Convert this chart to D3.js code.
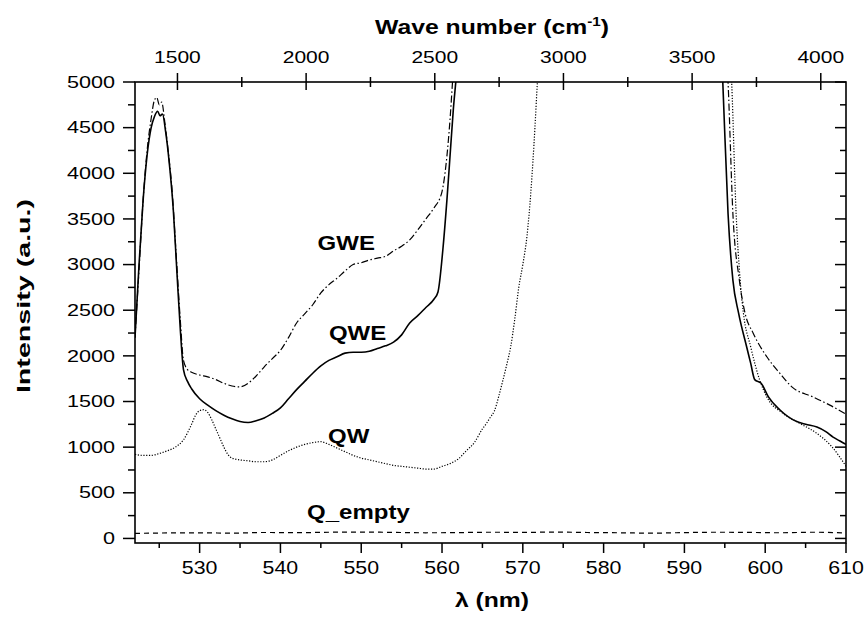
<!DOCTYPE html>
<html>
<head>
<meta charset="utf-8">
<script src="https://cdnjs.cloudflare.com/ajax/libs/d3/7.8.5/d3.min.js"></script>
<style>
    body { margin: 0; background: #fff; }
    text { font-family: "Liberation Sans", Arial, sans-serif; fill: #000; }
</style>
</head>
<body>
<div id="chart"></div>
<script>
// wavelength (nm) / intensity pairs
var qweLam = [522, 522.5, 523, 523.5, 524, 524.4, 524.8, 525.1, 525.4, 525.8, 526.2, 526.7, 527.2, 527.6, 528, 528.5, 529, 530, 531, 532, 533, 534, 535, 536, 537, 538, 539, 540, 541, 542, 543, 544, 545, 546, 547, 548, 549, 550, 551, 552, 553, 554, 555, 556, 557, 558, 559, 559.5, 560.1, 560.6, 561, 561.4, 561.8, 562.2,
    594.5, 594.75, 595.4, 596, 596.7, 597.7, 598.2, 598.7, 599.5, 600.4, 601.8, 603.9, 605, 606.4, 607.5, 608.4, 609.2, 610];
var qweVal = [2200, 3000, 3700, 4200, 4500, 4620, 4680, 4630, 4650, 4450, 4150, 3650, 2900, 2300, 1850, 1720, 1640, 1530, 1460, 1400, 1350, 1310, 1280, 1270, 1290, 1320, 1370, 1430, 1530, 1630, 1720, 1810, 1890, 1950, 1990, 2030, 2040, 2040, 2050, 2080, 2110, 2150, 2230, 2360, 2440, 2530, 2620, 2700, 3160, 3700, 4200, 4700, 5100, 5600,
    5500, 5000, 3560, 2830, 2470, 2100, 1920, 1740, 1700, 1550, 1410, 1280, 1250, 1220, 1170, 1110, 1070, 1030];

var gweLam = [522, 522.5, 523, 523.5, 524, 524.4, 524.7, 525, 525.3, 525.7, 526.1, 526.6, 527.1, 527.6, 528, 528.5, 529, 530, 531, 532, 533, 534, 535, 536, 537, 538, 539, 540, 541, 542, 543, 544, 545, 546, 547, 548, 549, 550, 551, 552, 553, 554, 555, 556, 557, 558, 559, 560, 560.5, 561, 561.3, 561.7,
    595.1, 595.4, 596, 596.8, 597.5, 598.5, 600.2, 601.8, 603.3, 605.9, 608, 610];
var gweVal = [2200, 2950, 3700, 4250, 4600, 4800, 4830, 4750, 4780, 4550, 4250, 3800, 3100, 2400, 1950, 1850, 1820, 1790, 1770, 1740, 1700, 1670, 1660, 1700, 1780, 1880, 1970, 2060, 2200, 2360, 2460, 2560, 2690, 2780, 2850, 2930, 3000, 3020, 3050, 3070, 3090, 3150, 3200, 3270, 3380, 3500, 3620, 3800, 4100, 4600, 5000, 5500,
    5500, 5000, 3560, 2830, 2470, 2250, 1990, 1810, 1660, 1550, 1460, 1360];

var qwLam = [522, 523, 524, 525, 526, 527, 528, 529, 529.5, 530, 530.5, 531, 531.5, 532, 532.5, 533, 533.5, 534, 535, 536, 537, 538, 539, 540, 541, 542, 543, 544, 545, 546, 547, 548, 549, 550, 551, 552, 553, 554, 555, 556, 557, 558, 559, 560, 561, 562, 563, 564, 565, 565.5, 566, 566.5, 567, 567.5, 568, 568.5, 569, 569.5, 570, 570.5, 571, 571.5, 571.8, 572.2,
    595.6, 595.85, 596.4, 596.9, 597.3, 598.2, 599.3, 600.2, 602.2, 604.3, 606.4, 608.2, 610];
var qwVal = [920, 910, 910, 930, 960, 1000, 1080, 1250, 1350, 1400, 1410, 1380, 1300, 1200, 1100, 1000, 920, 880, 860, 850, 840, 840, 860, 910, 960, 1000, 1030, 1050, 1060, 1030, 990, 950, 910, 880, 860, 840, 820, 800, 790, 780, 770, 760, 760, 790, 820, 870, 960, 1050, 1200, 1260, 1330, 1400, 1550, 1720, 1900, 2100, 2400, 2750, 3000, 3300, 3800, 4500, 5000, 5600,
    5500, 5000, 3560, 2830, 2470, 2100, 1740, 1550, 1370, 1260, 1150, 1010, 790];

var emptyLam = [522, 526, 530, 534, 538, 542, 546, 550, 554, 558, 562, 566, 570, 574, 578, 582, 586, 590, 594, 598, 602, 606, 610];
var emptyVal = [55, 60, 62, 58, 65, 63, 68, 70, 66, 62, 64, 68, 66, 70, 65, 62, 58, 64, 68, 66, 62, 68, 60];

var bottomTicks = [530, 540, 550, 560, 570, 580, 590, 600, 610];
var topTicks = [1500, 2000, 2500, 3000, 3500, 4000];
var leftTicks = [0, 500, 1000, 1500, 2000, 2500, 3000, 3500, 4000, 4500, 5000];

// curve names, placed by their left edge / baseline in data units
var seriesLabels = [
    { name: "GWE", lam: 544.6, val: 3160 },
    { name: "QWE", lam: 546.0, val: 2175 },
    { name: "QW", lam: 545.9, val: 1045 },
    { name: "Q_empty", lam: 543.3, val: 213 }
];

var width = 866, height = 619;
var plotLeft = 135, plotRight = 846, plotTop = 82, plotBottom = 543;

var svg = d3.select("#chart").append("svg")
    .attr("width", width)
    .attr("height", height);

var x = d3.scaleLinear().domain([522, 610]).range([plotLeft, plotRight]);
var xTop = d3.scaleLinear().domain([1335, 4098]).range([plotLeft, plotRight]);
var y = d3.scaleLinear().domain([-50, 5000]).range([plotBottom, plotTop]);

// text in the figure is drawn wide, so stretch it horizontally
function label(g, txt, px, py, size, sx, anchor, weight) {
    return g.append("text")
        .attr("transform", "translate(" + px + "," + py + ") scale(" + sx + ",1)")
        .attr("text-anchor", anchor)
        .style("font-size", size + "px")
        .style("font-weight", weight || "normal")
        .text(txt);
}

svg.append("clipPath").attr("id", "plotClip")
    .append("rect")
    .attr("x", plotLeft).attr("y", plotTop)
    .attr("width", plotRight - plotLeft).attr("height", plotBottom - plotTop);

var plot = svg.append("g").attr("clip-path", "url(#plotClip)");

function drawSeries(lam, val, dash, w) {
    var pts = lam.map(function (d, i) { return [d, val[i]]; });
    var line = d3.line()
        .x(function (d) { return x(d[0]); })
        .y(function (d) { return y(d[1]); })
        .curve(d3.curveMonotoneX);
    // the right-hand branch is drawn separately (curves leave through the top)
    var split = 0;
    for (var i = 1; i < pts.length; i++) {
        if (pts[i][0] - pts[i - 1][0] > 10) split = i;
    }
    var parts = split ? [pts.slice(0, split), pts.slice(split)] : [pts];
    parts.forEach(function (p) {
        plot.append("path")
            .attr("d", line(p))
            .attr("fill", "none")
            .attr("stroke", "#000")
            .attr("stroke-width", w)
            .attr("stroke-dasharray", dash)
            .attr("stroke-linejoin", "round");
    });
}

drawSeries(emptyLam, emptyVal, "5,4", 1.2);
drawSeries(qwLam, qwVal, "1.2,1.6", 1.2);
drawSeries(gweLam, gweVal, "7,2.5,1.5,2.5", 1.2);
drawSeries(qweLam, qweVal, null, 1.6);

// frame
svg.append("rect")
    .attr("x", plotLeft).attr("y", plotTop)
    .attr("width", plotRight - plotLeft).attr("height", plotBottom - plotTop)
    .attr("fill", "none")
    .attr("stroke", "#000")
    .attr("stroke-width", 1.6);

var ticks = svg.append("g").attr("stroke", "#000").attr("stroke-width", 1.5);

// bottom axis: outward ticks, every 5 nm
d3.range(525, 611, 5).forEach(function (v) {
    var major = v % 10 === 0;
    ticks.append("line")
        .attr("x1", x(v)).attr("x2", x(v))
        .attr("y1", plotBottom).attr("y2", plotBottom + (major ? 10 : 5));
});
bottomTicks.forEach(function (v) {
    label(svg, v, x(v), 574, 17.5, 1.22, "middle");
});

// left axis: outward ticks; right axis: inward ticks
d3.range(0, 5001, 250).forEach(function (v) {
    var major = v % 500 === 0;
    ticks.append("line")
        .attr("x1", plotLeft - (major ? 12 : 7)).attr("x2", plotLeft)
        .attr("y1", y(v)).attr("y2", y(v));
    ticks.append("line")
        .attr("x1", plotRight - (major ? 11 : 6)).attr("x2", plotRight)
        .attr("y1", y(v)).attr("y2", y(v));
});
leftTicks.forEach(function (v) {
    label(svg, v, 115, y(v) + 5.7, 16, 1.35, "end");
});

// top axis (wave number): ticks cross the line
d3.range(1500, 4001, 250).forEach(function (v) {
    var major = v % 500 === 0;
    ticks.append("line")
        .attr("x1", xTop(v)).attr("x2", xTop(v))
        .attr("y1", plotTop - (major ? 9 : 5)).attr("y2", plotTop + (major ? 8 : 5));
});
topTicks.forEach(function (v) {
    label(svg, v, xTop(v), 62.5, 16.8, 1.25, "middle");
});

// titles
var tt = label(svg, "Wave number (cm", 492, 34, 19.5, 1.27, "middle", "bold");
tt.append("tspan").attr("dy", -8).style("font-size", "12px").text("-1");
tt.append("tspan").attr("dy", 8).text(")");

label(svg, "\u03bb (nm)", 492, 607, 19.5, 1.27, "middle", "bold");

svg.append("text")
    .attr("transform", "translate(30,296) rotate(-90) scale(1.55,1)")
    .attr("text-anchor", "middle")
    .style("font-size", "18.5px")
    .style("font-weight", "bold")
    .text("Intensity (a.u.)");

seriesLabels.forEach(function (d) {
    label(svg, d.name, x(d.lam), y(d.val), 20, 1.2, "start", "bold");
});
</script>
</body>
</html>
